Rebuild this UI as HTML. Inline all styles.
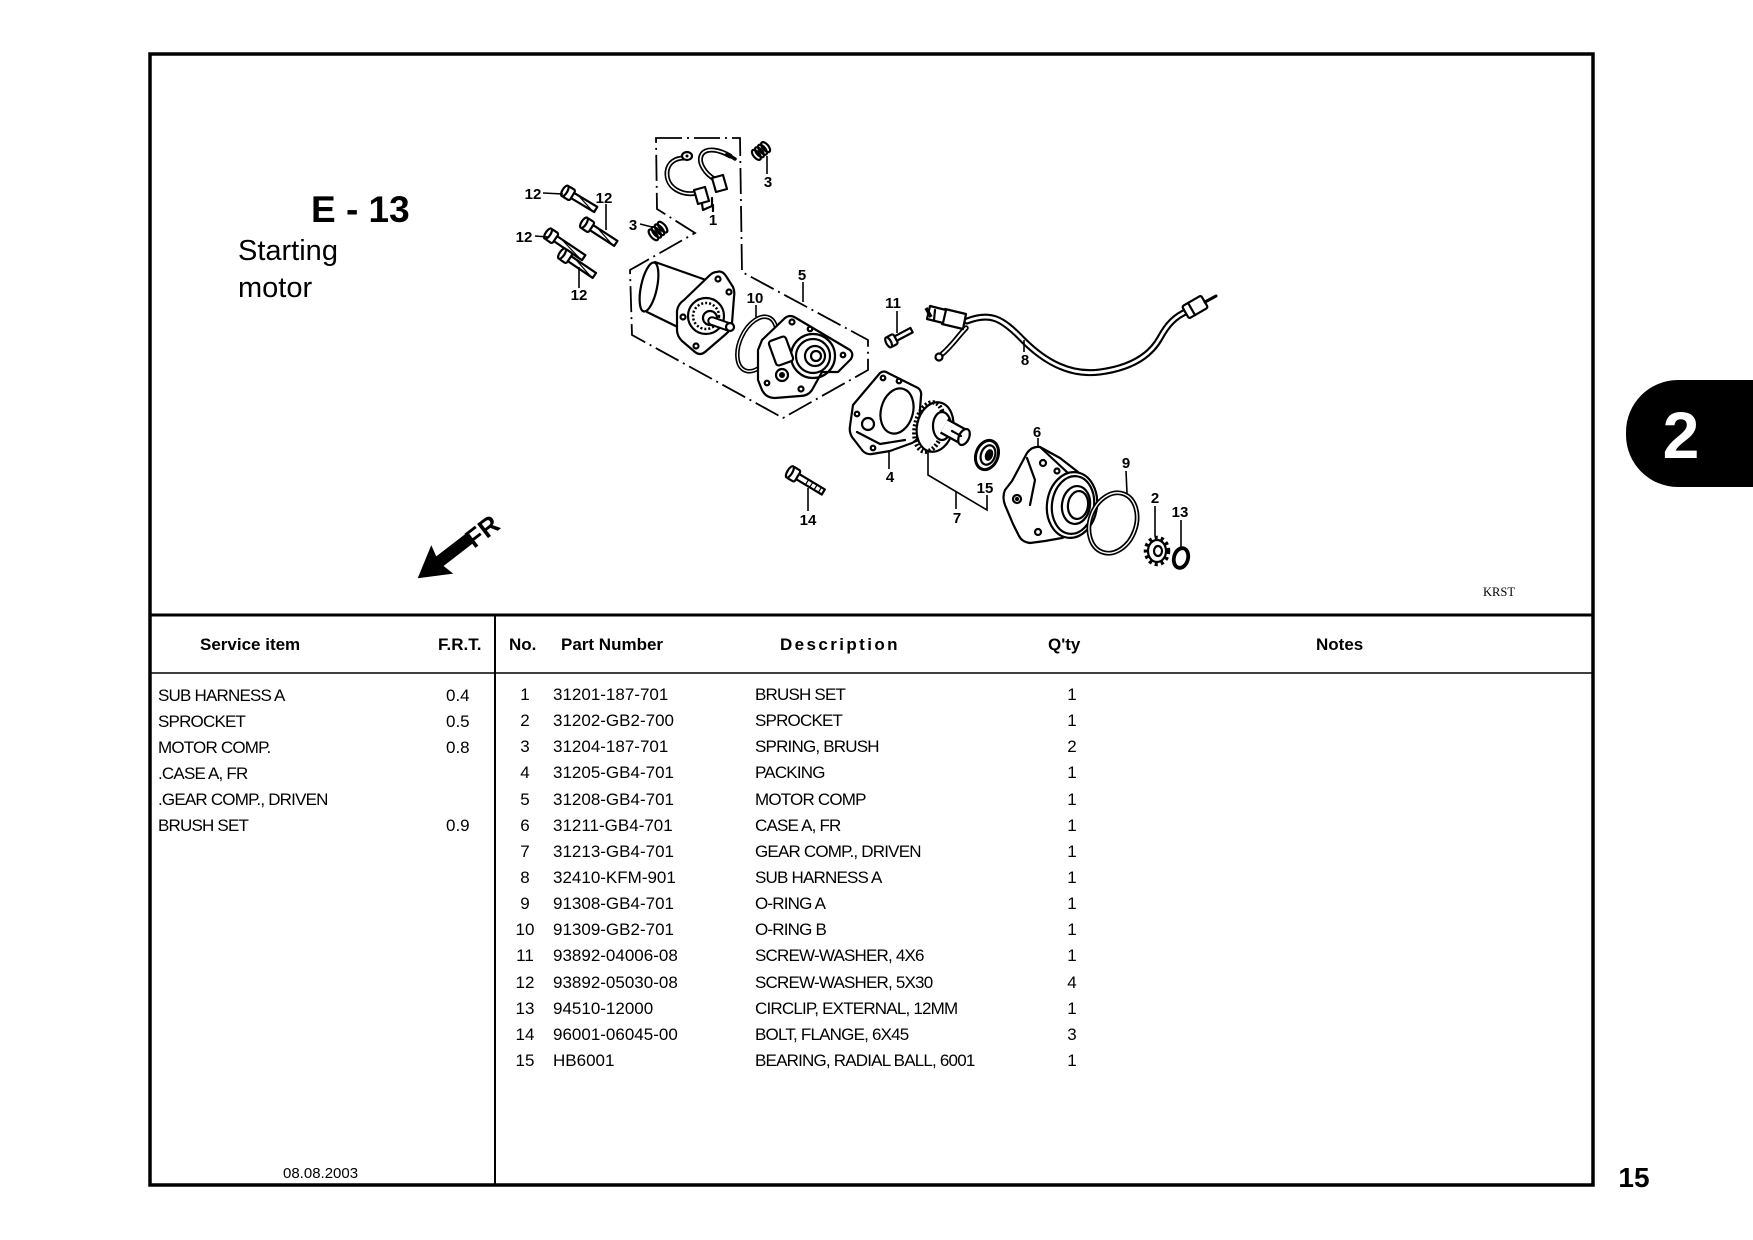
<!DOCTYPE html>
<html>
<head>
<meta charset="utf-8">
<style>
  html,body{margin:0;padding:0;background:#fff;}
  body{width:1753px;height:1240px;overflow:hidden;}
  svg{display:block;}
  .lb{font-family:"Liberation Sans",Arial,sans-serif;font-weight:bold;font-size:15px;text-anchor:middle;fill:#000;}
  .hd{font-family:"Liberation Sans",Arial,sans-serif;font-weight:bold;font-size:17px;fill:#000;}
  .tx{font-family:"Liberation Sans",Arial,sans-serif;font-size:17px;fill:#000;}
  .cd{letter-spacing:-0.8px;}
  .ln{stroke:#000;stroke-width:2.2;fill:none;stroke-linecap:round;stroke-linejoin:round;}
  .wf{stroke:#000;stroke-width:2.2;fill:#fff;stroke-linejoin:round;}
</style>
</head>
<body>
<svg width="1753" height="1240" viewBox="0 0 1753 1240" xmlns="http://www.w3.org/2000/svg">
  <!-- Frame -->
  <rect x="150" y="54" width="1443" height="1131" fill="none" stroke="#000" stroke-width="3.5"/>
  <line x1="150" y1="615" x2="1593" y2="615" stroke="#000" stroke-width="3"/>
  <line x1="150" y1="673" x2="1593" y2="673" stroke="#000" stroke-width="1.6"/>
  <line x1="495" y1="615" x2="495" y2="1185" stroke="#000" stroke-width="2"/>

  <!-- Tab -->
  <rect x="1626" y="380" width="220" height="107" rx="52" ry="52" fill="#000"/>
  <text x="1681" y="458" font-family="Liberation Sans, Arial, sans-serif" font-weight="bold" font-size="66" fill="#fff" text-anchor="middle">2</text>

  <!-- Page number -->
  <text x="1634" y="1187" font-family="Liberation Sans, Arial, sans-serif" font-weight="bold" font-size="28" text-anchor="middle">15</text>

  <!-- Title -->
  <text x="311" y="222" font-family="Liberation Sans, Arial, sans-serif" font-weight="bold" font-size="37">E - 13</text>
  <text x="238" y="260" font-family="Liberation Sans, Arial, sans-serif" font-size="29">Starting</text>
  <text x="238" y="297" font-family="Liberation Sans, Arial, sans-serif" font-size="29">motor</text>

  <!-- KRST -->
  <text x="1483" y="596" font-family="Liberation Serif, serif" font-size="12.5">KRST</text>

  <!-- Date -->
  <text x="283" y="1178" font-family="Liberation Sans, Arial, sans-serif" font-size="15">08.08.2003</text>

  <!-- Header -->
  <text class="hd" x="200" y="650">Service item</text>
  <text class="hd" x="438" y="650">F.R.T.</text>
  <text class="hd" x="509" y="650">No.</text>
  <text class="hd" x="561" y="650">Part Number</text>
  <text class="hd" x="780" y="650" letter-spacing="2.4">Description</text>
  <text class="hd" x="1048" y="650">Q'ty</text>
  <text class="hd" x="1316" y="650">Notes</text>

  <!-- Service items -->
  <g class="tx cd">
    <text x="158" y="701">SUB HARNESS A</text>
    <text x="158" y="727">SPROCKET</text>
    <text x="158" y="753">MOTOR COMP.</text>
    <text x="158" y="779">.CASE A, FR</text>
    <text x="158" y="805">.GEAR COMP., DRIVEN</text>
    <text x="158" y="831">BRUSH SET</text>
  </g>
  <g class="tx">
    <text x="446" y="701">0.4</text>
    <text x="446" y="727">0.5</text>
    <text x="446" y="753">0.8</text>
    <text x="446" y="831">0.9</text>
  </g>

  <!-- Parts list -->
  <g class="tx" text-anchor="middle">
    <text x="525" y="700">1</text>
    <text x="525" y="726">2</text>
    <text x="525" y="752">3</text>
    <text x="525" y="778">4</text>
    <text x="525" y="805">5</text>
    <text x="525" y="831">6</text>
    <text x="525" y="857">7</text>
    <text x="525" y="883">8</text>
    <text x="525" y="909">9</text>
    <text x="525" y="935">10</text>
    <text x="525" y="961">11</text>
    <text x="525" y="988">12</text>
    <text x="525" y="1014">13</text>
    <text x="525" y="1040">14</text>
    <text x="525" y="1066">15</text>
  </g>
  <g class="tx">
    <text x="553" y="700">31201-187-701</text>
    <text x="553" y="726">31202-GB2-700</text>
    <text x="553" y="752">31204-187-701</text>
    <text x="553" y="778">31205-GB4-701</text>
    <text x="553" y="805">31208-GB4-701</text>
    <text x="553" y="831">31211-GB4-701</text>
    <text x="553" y="857">31213-GB4-701</text>
    <text x="553" y="883">32410-KFM-901</text>
    <text x="553" y="909">91308-GB4-701</text>
    <text x="553" y="935">91309-GB2-701</text>
    <text x="553" y="961">93892-04006-08</text>
    <text x="553" y="988">93892-05030-08</text>
    <text x="553" y="1014">94510-12000</text>
    <text x="553" y="1040">96001-06045-00</text>
    <text x="553" y="1066">HB6001</text>
  </g>
  <g class="tx cd">
    <text x="755" y="700">BRUSH SET</text>
    <text x="755" y="726">SPROCKET</text>
    <text x="755" y="752">SPRING, BRUSH</text>
    <text x="755" y="778">PACKING</text>
    <text x="755" y="805">MOTOR COMP</text>
    <text x="755" y="831">CASE A, FR</text>
    <text x="755" y="857">GEAR COMP., DRIVEN</text>
    <text x="755" y="883">SUB HARNESS A</text>
    <text x="755" y="909">O-RING A</text>
    <text x="755" y="935">O-RING B</text>
    <text x="755" y="961">SCREW-WASHER, 4X6</text>
    <text x="755" y="988">SCREW-WASHER, 5X30</text>
    <text x="755" y="1014">CIRCLIP, EXTERNAL, 12MM</text>
    <text x="755" y="1040">BOLT, FLANGE, 6X45</text>
    <text x="755" y="1066">BEARING, RADIAL BALL, 6001</text>
  </g>
  <g class="tx" text-anchor="middle">
    <text x="1072" y="700">1</text>
    <text x="1072" y="726">1</text>
    <text x="1072" y="752">2</text>
    <text x="1072" y="778">1</text>
    <text x="1072" y="805">1</text>
    <text x="1072" y="831">1</text>
    <text x="1072" y="857">1</text>
    <text x="1072" y="883">1</text>
    <text x="1072" y="909">1</text>
    <text x="1072" y="935">1</text>
    <text x="1072" y="961">1</text>
    <text x="1072" y="988">4</text>
    <text x="1072" y="1014">1</text>
    <text x="1072" y="1040">3</text>
    <text x="1072" y="1066">1</text>
  </g>

  <!-- ================= DIAGRAM ================= -->
  <polygon points="656,138 740,138 742,272 868,340 868,370 783,418 632,335 630,270 695,233 657,209"
    fill="none" stroke="#000" stroke-width="1.8" stroke-dasharray="26,5,2,5"/>

  <!-- Brush set 1 -->
  <path d="M697,193 C682,196 666,188 667,172 C668,162 676,158 684,158" fill="none" stroke="#000" stroke-width="5" stroke-linecap="round"/>
  <path d="M697,193 C682,196 666,188 667,172 C668,162 676,158 684,158" fill="none" stroke="#fff" stroke-width="1.6" stroke-linecap="round"/>
  <ellipse cx="687" cy="156" rx="5" ry="4" class="wf"/>
  <circle cx="687" cy="156" r="1.5" fill="#000"/>
  <path d="M716,180 C705,174 697,162 702,154 C707,147 720,150 730,156" fill="none" stroke="#000" stroke-width="5" stroke-linecap="round"/>
  <path d="M716,180 C705,174 697,162 702,154 C707,147 720,150 730,156" fill="none" stroke="#fff" stroke-width="1.6" stroke-linecap="round"/>
  <line x1="727" y1="154" x2="735" y2="159" stroke="#000" stroke-width="3.5" stroke-linecap="round"/>
  <polygon points="694,190 705,187 709,201 698,204" class="wf"/>
  <polygon points="712,178 723,175 727,189 716,192" class="wf"/>
  <polyline points="702,204 703,210 712,206 712,198" class="ln"/>
  <line x1="713" y1="205" x2="713" y2="211" class="ln"/>

  <!-- Springs 3 -->
  <g transform="translate(761,151) rotate(-40)">
    <ellipse cx="-6" cy="0" rx="3" ry="6" class="ln"/>
    <ellipse cx="-2" cy="0" rx="3" ry="6" class="ln"/>
    <ellipse cx="2" cy="0" rx="3" ry="6" class="ln"/>
    <ellipse cx="6" cy="0" rx="3" ry="6" class="ln"/>
  </g>
  <g transform="translate(658,231) rotate(-40)">
    <ellipse cx="-6" cy="0" rx="3" ry="6.5" class="ln"/>
    <ellipse cx="-2" cy="0" rx="3" ry="6.5" class="ln"/>
    <ellipse cx="2" cy="0" rx="3" ry="6.5" class="ln"/>
    <ellipse cx="6" cy="0" rx="3" ry="6.5" class="ln"/>
  </g>

  <!-- Bolts 12 -->
  <g transform="translate(570,194) rotate(31)">
    <rect x="2" y="-3" width="28" height="6" class="wf"/>
    <line x1="8" y1="-3" x2="28" y2="3" stroke="#000" stroke-width="1.2"/>
    <rect x="-6" y="-6" width="9" height="12" rx="2" class="wf"/>
    <ellipse cx="-6" cy="0" rx="2.5" ry="6" class="wf"/>
  </g>
  <g transform="translate(589,226) rotate(33)">
    <rect x="2" y="-3" width="30" height="6" class="wf"/>
    <line x1="8" y1="-3" x2="30" y2="3" stroke="#000" stroke-width="1.2"/>
    <rect x="-6" y="-6" width="9" height="12" rx="2" class="wf"/>
    <ellipse cx="-6" cy="0" rx="2.5" ry="6" class="wf"/>
  </g>
  <g transform="translate(553,237) rotate(34)">
    <rect x="2" y="-3" width="35" height="6" class="wf"/>
    <line x1="8" y1="-3" x2="35" y2="3" stroke="#000" stroke-width="1.2"/>
    <rect x="-6" y="-6" width="9" height="12" rx="2" class="wf"/>
    <ellipse cx="-6" cy="0" rx="2.5" ry="6" class="wf"/>
  </g>
  <g transform="translate(567,257) rotate(34)">
    <rect x="2" y="-3" width="31" height="6" class="wf"/>
    <line x1="8" y1="-3" x2="31" y2="3" stroke="#000" stroke-width="1.2"/>
    <rect x="-6" y="-6" width="9" height="12" rx="2" class="wf"/>
    <ellipse cx="-6" cy="0" rx="2.5" ry="6" class="wf"/>
  </g>

  <!-- Motor -->
  <path d="M655,262 L706,280 L692,334 L647,312 Z" fill="#fff" stroke="none"/>
  <line x1="655" y1="262" x2="706" y2="280" class="ln"/>
  <line x1="647" y1="312" x2="690" y2="333" class="ln"/>
  <ellipse cx="649" cy="287" rx="8" ry="25" transform="rotate(12 649 287)" class="wf"/>
  <path d="M717,272 Q722,270 726,276 L733,287 Q735,292 734,297 L732,323 Q731,330 726,334 L705,352 Q700,356 695,352 L682,341 Q677,336 677,330 L677,311 Q678,304 684,300 L710,275 Q713,272 717,272 Z" class="wf"/>
  <circle cx="706" cy="316" r="18" class="ln"/>
  <circle cx="706" cy="316" r="13" fill="none" stroke="#000" stroke-width="2.5" stroke-dasharray="2,2"/>
  <circle cx="710" cy="318" r="7" class="wf"/>
  <line x1="712" y1="321" x2="729" y2="327" stroke="#000" stroke-width="9.5" stroke-linecap="round"/>
  <line x1="712" y1="321" x2="729" y2="327" stroke="#fff" stroke-width="5.5" stroke-linecap="round"/>
  <circle cx="730" cy="327" r="4" class="wf"/>
  <circle cx="718" cy="279" r="2.5" class="ln"/>
  <circle cx="729" cy="292" r="2.5" class="ln"/>
  <circle cx="696" cy="346" r="2.5" class="ln"/>
  <circle cx="683" cy="317" r="2.5" class="ln"/>

  <!-- O-ring 10 -->
  <ellipse cx="757" cy="344" rx="17" ry="29" transform="rotate(25 757 344)" fill="none" stroke="#000" stroke-width="4.5" stroke-dasharray="130,16"/>
  <ellipse cx="757" cy="344" rx="17" ry="29" transform="rotate(25 757 344)" fill="none" stroke="#fff" stroke-width="1.3" stroke-dasharray="130,16"/>

  <!-- Cover plate -->
  <path d="M762,340 L785,318 Q790,314 796,318 L850,350 Q854,354 851,359 L838,372 L822,372 L812,390 Q808,396 800,396 L775,398 Q766,398 762,390 L758,380 L758,350 Z" class="wf"/>
  <circle cx="813" cy="356" r="22" class="ln"/>
  <circle cx="813" cy="356" r="17" class="ln"/>
  <circle cx="815" cy="356" r="10" class="wf"/>
  <circle cx="816" cy="356" r="5" class="ln"/>
  <rect x="772" y="338" width="18" height="26" rx="3" class="wf" transform="rotate(-20 781 351)"/>
  <circle cx="782" cy="375" r="6" class="ln"/>
  <circle cx="782" cy="375" r="3" fill="#000"/>
  <circle cx="792" cy="322" r="2.5" class="ln"/>
  <circle cx="810" cy="329" r="2.3" class="ln"/>
  <circle cx="843" cy="355" r="2.3" class="ln"/>
  <circle cx="801" cy="389" r="2.5" class="ln"/>
  <circle cx="767" cy="383" r="2.3" class="ln"/>

  <!-- Screw 11 -->
  <g transform="translate(893,340) rotate(-28)">
    <rect x="2" y="-2.5" width="19" height="5" class="wf"/>
    <rect x="-5" y="-5.5" width="8" height="11" rx="2" class="wf"/>
    <ellipse cx="-5" cy="0" rx="2.5" ry="5.5" class="wf"/>
  </g>

  <!-- Harness 8 -->
  <path d="M967,321 C990,312 1002,318 1023,340 C1045,362 1070,376 1100,372 C1130,368 1150,356 1160,338 C1167,325 1175,316 1188,311" fill="none" stroke="#000" stroke-width="7" stroke-linecap="round"/>
  <path d="M967,321 C990,312 1002,318 1023,340 C1045,362 1070,376 1100,372 C1130,368 1150,356 1160,338 C1167,325 1175,316 1188,311" fill="none" stroke="#fff" stroke-width="2.8" stroke-linecap="round"/>
  <path d="M966,328 C958,336 952,346 941,355" fill="none" stroke="#000" stroke-width="5.5" stroke-linecap="round"/>
  <path d="M966,328 C958,336 952,346 941,355" fill="none" stroke="#fff" stroke-width="2" stroke-linecap="round"/>
  <circle cx="939" cy="357" r="3.5" class="wf"/>
  <polygon points="945,309 966,314 963,329 942,324" class="wf"/>
  <polygon points="930,306 946,310 943,323 927,319" class="wf"/>
  <line x1="926" y1="308" x2="931" y2="317" stroke="#000" stroke-width="3.5"/>
  <line x1="935" y1="310" x2="934" y2="320" class="ln"/>
  <g transform="translate(1195,307) rotate(-30)">
    <rect x="-11" y="-7" width="22" height="14" rx="2" class="wf"/>
    <line x1="-4" y1="-7" x2="-4" y2="7" class="ln"/>
  </g>
  <line x1="1205" y1="302" x2="1216" y2="296" stroke="#000" stroke-width="3" stroke-linecap="round"/>

  <!-- Packing 4 -->
  <path d="M853,405 L880,373 Q884,370 888,373 L918,388 Q922,391 921,396 L918,436 Q917,441 912,443 L890,451 L872,454 Q866,455 862,450 L852,437 Q849,432 850,426 Z" class="wf"/>
  <ellipse cx="897" cy="411" rx="16" ry="23" transform="rotate(15 897 411)" class="ln"/>
  <circle cx="868" cy="424" r="6" class="ln"/>
  <circle cx="883" cy="378" r="2.3" class="ln"/>
  <circle cx="899" cy="381" r="2.3" class="ln"/>
  <circle cx="857" cy="414" r="2.3" class="ln"/>
  <circle cx="873" cy="448" r="2.3" class="ln"/>
  <path d="M857,432 L880,444 L905,440" class="ln"/>

  <!-- Gear 7 -->
  <ellipse cx="935" cy="427" rx="18" ry="25" transform="rotate(12 935 427)" class="wf"/>
  <ellipse cx="929" cy="427" rx="14" ry="25" transform="rotate(12 929 427)" fill="none" stroke="#000" stroke-width="4.5" stroke-dasharray="2,2"/>
  <ellipse cx="942" cy="426" rx="9" ry="14" class="wf"/>
  <line x1="944" y1="426" x2="964" y2="437" stroke="#000" stroke-width="17" stroke-linecap="butt"/>
  <line x1="944" y1="426" x2="964" y2="437" stroke="#fff" stroke-width="12.5" stroke-linecap="butt"/>
  <ellipse cx="964" cy="437" rx="5" ry="8.5" transform="rotate(25 964 437)" class="wf"/>
  <line x1="952" y1="431" x2="961" y2="436" class="ln" stroke-dasharray="1.5,1.5"/>

  <!-- Bearing 15 -->
  <ellipse cx="987" cy="455" rx="11" ry="15" transform="rotate(20 987 455)" fill="#fff" stroke="#000" stroke-width="3"/>
  <ellipse cx="988" cy="455" rx="7" ry="10" transform="rotate(20 988 455)" class="ln"/>
  <ellipse cx="989" cy="455" rx="4" ry="6" transform="rotate(20 989 455)" fill="#000"/>

  <!-- Case 6 -->
  <path d="M1005,490 L1012,481 L1027,453 Q1032,446 1040,447 L1060,458 L1078,472 L1080,530 L1062,538 L1045,541 L1030,543 Q1022,542 1019,536 L1013,524 L1005,505 Q1002,497 1005,490 Z" class="wf"/>
  <ellipse cx="1072" cy="505" rx="25" ry="33" transform="rotate(8 1072 505)" class="wf"/>
  <ellipse cx="1073" cy="505" rx="21" ry="29" transform="rotate(8 1073 505)" class="ln"/>
  <ellipse cx="1076" cy="505" rx="14" ry="19" transform="rotate(8 1076 505)" class="ln"/>
  <ellipse cx="1078" cy="505" rx="10" ry="14" transform="rotate(8 1078 505)" class="ln"/>
  <line x1="1040" y1="447" x2="1068" y2="473" class="ln"/>
  <circle cx="1043" cy="463" r="3" class="ln"/>
  <circle cx="1057" cy="471" r="2.5" class="ln"/>
  <circle cx="1038" cy="532" r="3" class="ln"/>
  <circle cx="1017" cy="499" r="4" class="ln"/>
  <circle cx="1017" cy="499" r="2" fill="#000"/>
  <path d="M1027,458 L1035,480 L1030,505" class="ln"/>

  <!-- O-ring 9 -->
  <ellipse cx="1113" cy="523" rx="23" ry="31" transform="rotate(20 1113 523)" fill="none" stroke="#000" stroke-width="4.8"/>
  <ellipse cx="1113" cy="523" rx="23" ry="31" transform="rotate(20 1113 523)" fill="none" stroke="#fff" stroke-width="1.4"/>

  <!-- Sprocket 2 -->
  <ellipse cx="1157" cy="551" rx="11" ry="13" fill="none" stroke="#000" stroke-width="4.5" stroke-dasharray="3,3"/>
  <ellipse cx="1157" cy="551" rx="9" ry="11" class="wf"/>
  <ellipse cx="1158" cy="551" rx="4" ry="5" class="ln"/>

  <!-- Circlip 13 -->
  <ellipse cx="1181" cy="558" rx="7" ry="10" transform="rotate(15 1181 558)" fill="none" stroke="#000" stroke-width="3.8"/>

  <!-- Bolt 14 -->
  <g transform="translate(795,475) rotate(31)">
    <rect x="2" y="-3" width="31" height="6" class="wf"/>
    <line x1="14" y1="-3" x2="14" y2="3" stroke="#000" stroke-width="1.2"/>
    <line x1="19" y1="-3" x2="19" y2="3" stroke="#000" stroke-width="1.2"/>
    <line x1="24" y1="-3" x2="24" y2="3" stroke="#000" stroke-width="1.2"/>
    <line x1="29" y1="-3" x2="29" y2="3" stroke="#000" stroke-width="1.2"/>
    <rect x="-6" y="-6.5" width="9" height="13" rx="2" class="wf"/>
    <ellipse cx="-6" cy="0" rx="2.5" ry="6.5" class="wf"/>
  </g>

  <!-- Leader lines -->
  <g stroke="#000" stroke-width="1.6" fill="none">
    <line x1="543" y1="193" x2="563" y2="194"/>
    <line x1="606" y1="204" x2="606" y2="230"/>
    <line x1="535" y1="236" x2="548" y2="237"/>
    <line x1="579" y1="267" x2="579" y2="288"/>
    <line x1="767" y1="156" x2="767" y2="174"/>
    <line x1="640" y1="224" x2="652" y2="227"/>
    <line x1="713" y1="205" x2="713" y2="212"/>
    <line x1="803" y1="282" x2="803" y2="302"/>
    <line x1="756" y1="305" x2="756" y2="317"/>
    <line x1="897" y1="311" x2="897" y2="333"/>
    <line x1="1024" y1="340" x2="1024" y2="352"/>
    <line x1="889" y1="450" x2="889" y2="469"/>
    <polyline points="928,450 928,475 987,510 987,495"/>
    <line x1="956" y1="491" x2="956" y2="509"/>
    <line x1="808" y1="488" x2="808" y2="511"/>
    <line x1="1038" y1="438" x2="1038" y2="448"/>
    <line x1="1126" y1="471" x2="1127" y2="493"/>
    <line x1="1155" y1="506" x2="1155" y2="536"/>
    <line x1="1181" y1="520" x2="1181" y2="547"/>
  </g>

  <!-- Labels -->
  <g class="lb">
    <text x="533" y="199">12</text>
    <text x="604" y="203">12</text>
    <text x="524" y="242">12</text>
    <text x="579" y="300">12</text>
    <text x="768" y="187">3</text>
    <text x="633" y="230">3</text>
    <text x="713" y="225">1</text>
    <text x="802" y="280">5</text>
    <text x="755" y="303">10</text>
    <text x="893" y="308">11</text>
    <text x="1025" y="365">8</text>
    <text x="890" y="482">4</text>
    <text x="957" y="523">7</text>
    <text x="985" y="493">15</text>
    <text x="808" y="525">14</text>
    <text x="1037" y="437">6</text>
    <text x="1126" y="468">9</text>
    <text x="1155" y="503">2</text>
    <text x="1180" y="517">13</text>
  </g>

  <!-- FR arrow -->
  <g transform="translate(470,538) rotate(142.4)">
    <polygon points="0,-6 38,-6 35,-18 66,0 35,18 38,6 0,6" fill="#000"/>
  </g>
  <text x="474" y="549" transform="rotate(-37.6 474 549)" font-family="Liberation Sans, Arial, sans-serif" font-weight="bold" font-size="26">FR</text>
</svg>
</body>
</html>
